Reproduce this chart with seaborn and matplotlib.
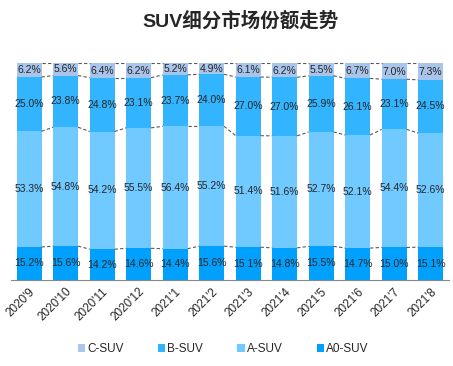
import seaborn as sns
import matplotlib.pyplot as plt
import numpy as np
import pandas as pd

months = ["2020'9", "2020'10", "2020'11", "2020'12", "2021'1", "2021'2",
          "2021'3", "2021'4", "2021'5", "2021'6", "2021'7", "2021'8"]
c_suv = [6.2, 5.6, 6.4, 6.2, 5.2, 4.9, 6.1, 6.2, 5.5, 6.7, 7.0, 7.3]
b_suv = [25.0, 23.8, 24.8, 23.1, 23.7, 24.0, 27.0, 27.0, 25.9, 26.1, 23.1, 24.5]
a_suv = [53.3, 54.8, 54.2, 55.5, 56.4, 55.2, 51.4, 51.6, 52.7, 52.1, 54.4, 52.6]
a0_suv = [15.2, 15.6, 14.2, 14.6, 14.4, 15.6, 15.1, 14.8, 15.5, 14.7, 15.0, 15.1]

series = ["C-SUV", "B-SUV", "A-SUV", "A0-SUV"]
colors = {"C-SUV": "#A9C5EB", "B-SUV": "#33B4FF", "A-SUV": "#70C9FF", "A0-SUV": "#00A0FF"}

sns.set_style("white")
plt.rcParams['font.family'] = ['Liberation Sans', 'Noto Sans CJK SC']

df = pd.DataFrame({"month": months, "A0-SUV": a0_suv, "A-SUV": a_suv,
                   "B-SUV": b_suv, "C-SUV": c_suv})
# cumulative tops, bottom series first
stack_order = ["A0-SUV", "A-SUV", "B-SUV", "C-SUV"]
cum = df[stack_order].cumsum(axis=1)
cum["C-SUV"] = 100.0

fig = plt.figure(figsize=(4.53, 3.66), dpi=100)
ax = fig.add_axes([0.024, 0.235, 0.967, 0.593])

width = 0.68
for s in reversed(stack_order):
    sns.barplot(x=df["month"], y=cum[s], color=colors[s], width=width,
                saturation=1, ax=ax, label=s, linewidth=0, edgecolor="none")

# series lines between bars
for s in stack_order:
    vals = cum[s].values
    for i in range(len(months) - 1):
        ax.plot([i + width / 2, i + 1 - width / 2], [vals[i], vals[i + 1]],
                ls=(0, (3, 2)), color="#595959", lw=0.8)

# value labels
for i in range(len(months)):
    bottom = 0
    for s in stack_order:
        v = df[s][i]
        ax.text(i, bottom + v / 2, f"{v:.1f}%", ha="center", va="center", fontsize=7.5)
        bottom += v

ax.set_ylim(0, 100)
ax.set_xlim(-0.5, len(months) - 0.5)
ax.set_yticks([])
ax.set_xlabel("")
ax.set_ylabel("")
for sp in ["top", "right", "left"]:
    ax.spines[sp].set_visible(False)
ax.spines["bottom"].set_color("#888888")
ax.tick_params(axis="x", length=0, labelsize=8.5, pad=4)
plt.setp(ax.get_xticklabels(), rotation=45, ha="right", rotation_mode="anchor")

fig.suptitle("SUV细分市场份额走势", x=0.53, y=0.97, fontsize=14, fontweight="bold")

handles, labels = ax.get_legend_handles_labels()
order = [labels.index(s) for s in series]
ax.legend([handles[k] for k in order], series, loc="center", bbox_to_anchor=(0.485, -0.318),
          ncol=4, frameon=False, fontsize=8.5, handlelength=0.6, handleheight=0.6,
          handletextpad=0.2, columnspacing=2.9)

fig.savefig("out.png", dpi=100)
